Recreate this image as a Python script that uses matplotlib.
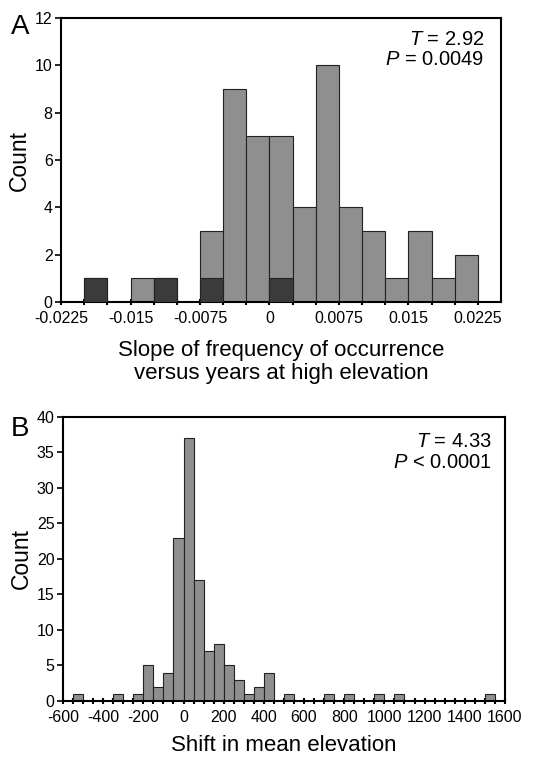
import matplotlib
matplotlib.use("Agg")
import matplotlib.pyplot as plt
import numpy as np

plt.rcParams['font.family'] = ['Liberation Sans', 'DejaVu Sans']
plt.rcParams['mathtext.fontset'] = 'custom'
plt.rcParams['mathtext.rm'] = 'Liberation Sans'
plt.rcParams['mathtext.it'] = 'Liberation Sans:italic'
plt.rcParams['axes.unicode_minus'] = False

# panel A: slope histogram (bin width 0.0025)
slope_left = [-0.02, -0.0175, -0.015, -0.0125, -0.01, -0.0075, -0.005, -0.0025,
              0.0, 0.0025, 0.005, 0.0075, 0.01, 0.0125, 0.015, 0.0175, 0.02]
slope_total = [1, 0, 1, 1, 0, 3, 9, 7, 7, 4, 10, 4, 3, 1, 3, 1, 2]
slope_dark = [1, 0, 0, 1, 0, 1, 0, 0, 1, 0, 0, 0, 0, 0, 0, 0, 0]
slope_ticks = [-0.0225, -0.015, -0.0075, 0, 0.0075, 0.015, 0.0225]
slope_ticklabels = ["-0.0225", "-0.015", "-0.0075", "0", "0.0075", "0.015", "0.0225"]

# panel B: elevation shift histogram (bin width 50)
shift_left = [-550, -350, -250, -200, -150, -100, -50, 0, 50, 100, 150, 200,
              250, 300, 350, 400, 500, 700, 800, 950, 1050, 1500]
shift_count = [1, 1, 1, 5, 2, 4, 23, 37, 17, 7, 8, 5, 3, 1, 2, 4, 1, 1, 1, 1, 1, 1]

grey = "#8f8f8f"
dark = "#3b3b3b"

fig = plt.figure(figsize=(5.4, 7.58), dpi=100)
axA = fig.add_axes([0.113, 0.6016, 0.815, 0.3746])
axB = fig.add_axes([0.1167, 0.0752, 0.8183, 0.3747])

w = 0.0025
axA.bar(slope_left, slope_total, width=w, align='edge', color=grey,
        edgecolor='#222222', linewidth=0.8, zorder=2)
axA.bar(slope_left, slope_dark, width=w, align='edge', color=dark,
        edgecolor='#222222', linewidth=0.8, zorder=3)
axA.set_xlim(-0.0225, 0.025)
axA.set_ylim(0, 12)
axA.set_yticks(range(0, 13, 2))
axA.set_xticks(slope_ticks)
axA.set_xticklabels(slope_ticklabels)
axA.set_xticks(np.arange(-0.02, 0.0226, 0.0025), minor=True)
axA.set_ylabel("Count", fontsize=16.5, labelpad=3)
axA.set_xlabel("Slope of frequency of occurrence\nversus years at high elevation",
               fontsize=16, labelpad=10, linespacing=1.12)
axA.text(0.961, 0.958, "$T$ = 2.92\n$P$ = 0.0049", transform=axA.transAxes,
         ha='right', va='top', fontsize=14.5, linespacing=1.1)

axB.bar(shift_left, shift_count, width=50, align='edge', color=grey,
        edgecolor='#222222', linewidth=0.8, zorder=2)
axB.set_xlim(-600, 1600)
axB.set_ylim(0, 40)
axB.set_yticks(range(0, 41, 5))
axB.set_xticks(range(-600, 1601, 200))
axB.set_xticks(range(-550, 1551, 50), minor=True)
axB.set_ylabel("Count", fontsize=16.5, labelpad=3)
axB.set_xlabel("Shift in mean elevation", fontsize=16, labelpad=7)
axB.text(0.97, 0.947, "$T$ = 4.33\n$P$ < 0.0001", transform=axB.transAxes,
         ha='right', va='top', fontsize=14.5, linespacing=1.1)

for ax in (axA, axB):
    for s in ax.spines.values():
        s.set_linewidth(1.5)
    ax.tick_params(axis='y', direction='out', length=4, width=1.2, labelsize=11.5, pad=2)
    ax.tick_params(axis='x', which='both', direction='inout', length=5, width=1.5,
                   labelsize=11.5, pad=4)

fig.text(0.02, 0.982, "A", fontsize=20, va='top', ha='left')
fig.text(0.02, 0.451, "B", fontsize=20, va='top', ha='left')

fig.savefig("out.png", dpi=100)
